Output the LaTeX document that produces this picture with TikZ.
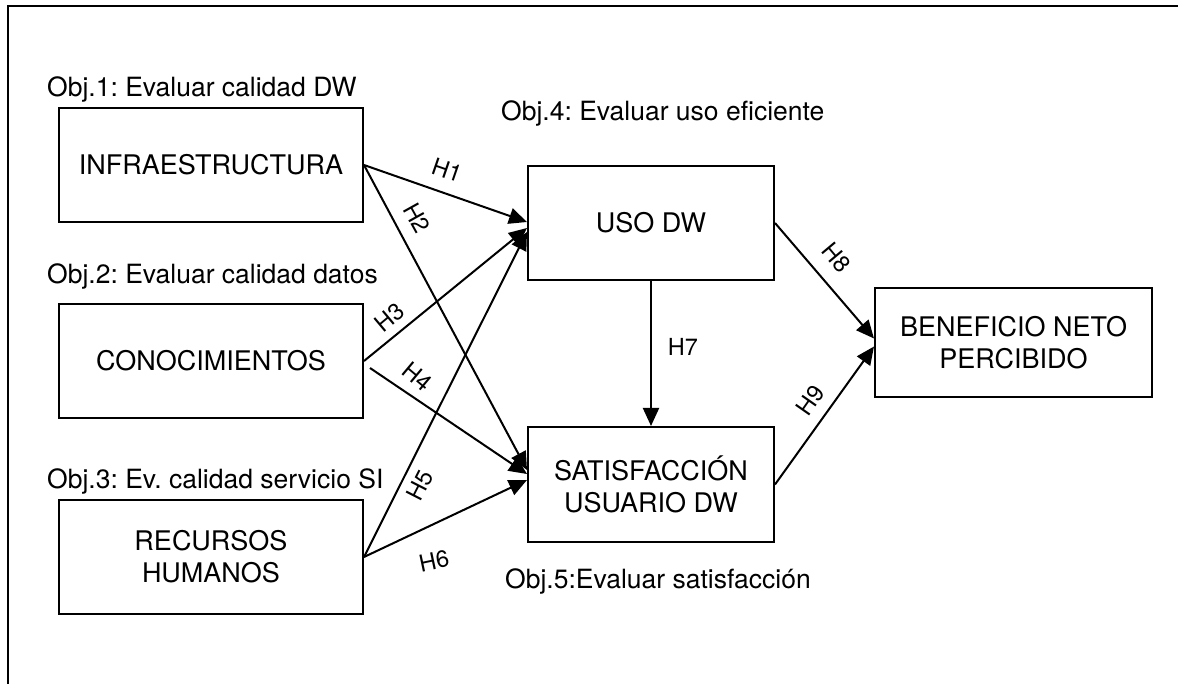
\documentclass[tikz,border=0pt]{standalone}
\usepackage{fontspec}
\setmainfont{TeX Gyre Heros}
\usetikzlibrary{arrows.meta,calc}
\frenchspacing
\begin{document}
\begin{tikzpicture}[x=1pt,y=-1pt,
  box/.style={draw,line width=2pt,inner sep=0pt,align=center,
    font=\fontsize{27}{32}\selectfont},
  obj/.style={inner sep=0pt,anchor=base west,font=\fontsize{26.5}{32}\selectfont},
  lbl/.style={inner sep=0pt,font=\fontsize{23.5}{28}\selectfont},
  arr/.style={line width=2pt,-{Triangle[length=18pt,width=16pt]}},
  ln/.style={line width=2pt}]
\useasboundingbox (0,0) rectangle (1178,684);
\draw[ln] (1178,6) -- (8,6) -- (8,684);

\node[box,minimum width=304,minimum height=114] (infra) at (211,165) {INFRAESTRUCTURA};
\node[box,minimum width=304,minimum height=114] (cono) at (211,361) {CONOCIMIENTOS};
\node[box,minimum width=304,minimum height=114] (recur) at (211,557) {RECURSOS\\HUMANOS};
\node[box,minimum width=246,minimum height=114] (uso) at (651,223) {USO DW};
\node[box,minimum width=246,minimum height=115] (sat) at (651,484.5) {SATISFACCIÓN\\USUARIO DW};
\node[box,minimum width=277,minimum height=109] (ben) at (1013.5,342.5) {BENEFICIO NETO\\PERCIBIDO};

\node[obj] (o1) at (47,97) {Obj.1: Evaluar calidad DW};
\node[obj] (o2) at (47,284) {Obj.2: Evaluar calidad datos};
\node[obj] (o3) at (47,488) {Obj.3: Ev. calidad servicio SI};
\node[obj] (o4) at (501,121) {Obj.4: Evaluar uso eficiente};
\node[obj] (o5) at (505,588) {Obj.5:Evaluar satisfacción};

\draw[arr] (infra.east) -- ($(uso.west)+(0,-1)$);
\draw[arr] (infra.east) -- ($(sat.west)+(0,-14.5)$);
\draw[arr] (cono.east) -- ($(uso.west)+(0,5)$);
\draw[arr] ($(cono.east)+(6,7)$) -- ($(sat.west)+(0,-10.5)$);
\draw[arr] (recur.east) -- ($(uso.west)+(0,9)$);
\draw[arr] (recur.east) -- ($(sat.west)+(0,-4.5)$);
\draw[arr] (uso.south) -- (sat.north);
\draw[arr] (uso.east) -- ($(ben.west)+(0,-4)$);
\draw[arr] (sat.east) -- ($(ben.west)+(0,4)$);

\node[lbl,rotate=-19] (h1) at (447,170) {H1};
\node[lbl,rotate=-61] (h2) at (417,218) {H2};
\node[lbl,rotate=40] (h3) at (390,317) {H3};
\node[lbl,rotate=-40] (h4) at (418,377) {H4};
\node[lbl,rotate=63] (h5) at (420,485) {H5};
\node[lbl,rotate=12] (h6) at (434,561) {H6};
\node[lbl] (h7) at (683,347) {H7};
\node[lbl,rotate=-50] (h8) at (837,258) {H8};
\node[lbl,rotate=55] (h9) at (810,400) {H9};
\end{tikzpicture}
\end{document}
